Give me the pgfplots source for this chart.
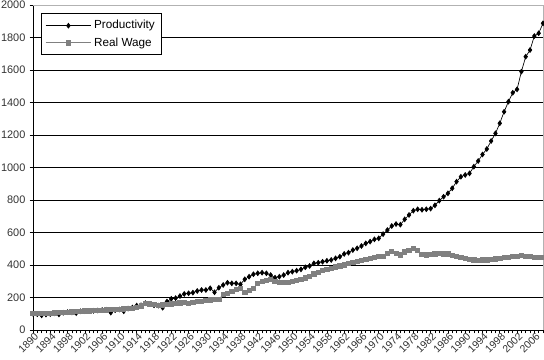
\documentclass[border=0pt]{standalone}
\usepackage{pgfplots}
\pgfplotsset{compat=1.18}
\usepackage{pgfplotstable}
\usepackage{fontspec}
\setmainfont{Liberation Sans}
\definecolor{wagegray}{RGB}{128,128,128}
\pgfplotstableread{
year prod wage
1890 100 100
1891 97 101
1892 90 103
1893 95 104
1894 98 104
1895 103 106
1896 96 108
1897 106 109
1898 110 110
1899 108 112
1900 104 113
1901 115 115
1902 116 117
1903 117 118
1904 118 119
1905 120 121
1906 123 122
1907 124 124
1908 107 125
1909 122 127
1910 126 128
1911 115 130
1912 132 132
1913 138 135
1914 150 137
1915 152 148
1916 165 162
1917 160 160
1918 152 156
1919 150 152
1920 137 154
1921 175 158
1922 192 160
1923 196 162
1924 209 166
1925 222 168
1926 226 164
1927 230 168
1928 240 174
1929 246 178
1930 246 182
1931 257 185
1932 232 187
1933 260 189
1934 277 218
1935 291 226
1936 287 236
1937 287 248
1938 281 257
1939 312 232
1940 328 245
1941 343 257
1942 349 287
1943 353 300
1944 349 305
1945 338 312
1946 322 300
1947 328 291
1948 338 291
1949 353 291
1950 359 297
1951 365 305
1952 373 312
1953 386 320
1954 394 328
1955 410 345
1956 414 355
1957 420 365
1958 426 373
1959 431 380
1960 441 388
1961 451 394
1962 468 400
1963 476 408
1964 492 414
1965 503 420
1966 517 428
1967 533 434
1968 544 441
1969 558 446
1970 564 455
1971 590 455
1972 615 470
1973 640 482
1974 652 470
1975 648 462
1976 681 480
1977 708 490
1978 734 503
1979 743 490
1980 740 466
1981 743 462
1982 747 465
1983 767 468
1984 796 470
1985 820 468
1986 841 468
1987 872 460
1988 913 455
1989 943 445
1990 954 440
1991 964 435
1992 1005 432
1993 1040 430
1994 1080 432
1995 1114 431
1996 1163 435
1997 1210 438
1998 1272 440
1999 1343 445
2000 1405 448
2001 1460 452
2002 1481 455
2003 1590 457
2004 1682 455
2005 1723 452
2006 1809 448
2007 1826 447
2008 1887 445
}\datatable
\begin{document}
\begin{tikzpicture}
\begin{axis}[
  at={(24.75pt,22.5pt)}, anchor=south west,
  scale only axis,
  width=382.5pt, height=243.75pt,
  xmin=1890, xmax=2008,
  ymin=0, ymax=2000,
  axis x line*=bottom, axis y line*=left,
  axis line style={black, line width=0.6pt},
  xtick={1890,1894,...,2006},
  minor xtick={1890,1891,...,2008},
  ytick={0,200,...,2000},
  ymajorgrids,
  major grid style={black, line width=0.6pt},
  tick align=outside,
  major tick length=2.5pt, minor tick length=2.5pt,
  tick style={black, line width=0.5pt},
  /pgf/number format/assume math mode=true,
  /pgf/number format/1000 sep={},
  tick label style={font=\fontsize{8.2pt}{9pt}\selectfont, text=black!80},
  xticklabel style={rotate=45, anchor=north east, inner sep=0.5pt, xshift=2pt, yshift=1pt, font=\fontsize{7.8pt}{8pt}\selectfont},
  yticklabel style={inner sep=1pt, xshift=-2pt},
  legend style={at={(0.0157,0.974)}, anchor=north west, draw=black, line width=0.5pt,
    font=\fontsize{8.8pt}{10pt}\selectfont, inner xsep=3pt, inner ysep=3pt, row sep=1pt,
    legend cell align=left},
  legend image code/.code={\draw[mark repeat=2,mark phase=2,#1] plot coordinates {(0pt,0pt)(17pt,0pt)(34pt,0pt)};},
  clip=false,
]
\addplot[black, line width=0.5pt, mark=diamond*, mark size=1.8pt, mark options={fill=black}] table[x=year, y=prod] {\datatable};
\addlegendentry{Productivity}
\addplot[wagegray, line width=0.6pt, mark=square*, mark size=1.6pt, mark options={fill=wagegray, draw=wagegray}] table[x=year, y=wage] {\datatable};
\addlegendentry{Real Wage}
\draw[gray!60, line width=0.5pt] (rel axis cs:0,1) -- (rel axis cs:1,1) -- (rel axis cs:1,0);
\end{axis}
\pgfresetboundingbox
\useasboundingbox (0,0) rectangle (408pt,270pt);
\end{tikzpicture}
\end{document}
